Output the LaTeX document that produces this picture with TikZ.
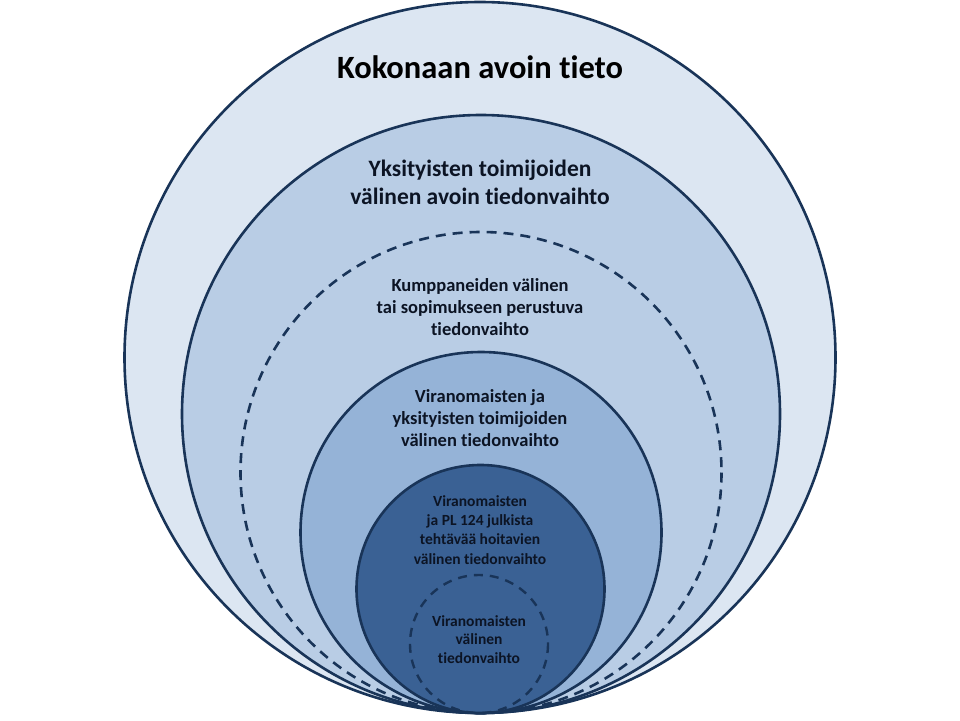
\documentclass[tikz,border=0pt]{standalone}
\usepackage{fontspec}
\setmainfont{Carlito}[Ligatures=NoCommon]
\definecolor{ringA}{RGB}{220,230,242}
\definecolor{ringB}{RGB}{185,205,229}
\definecolor{ringC}{RGB}{149,179,215}
\definecolor{ringD}{RGB}{58,97,148}
\definecolor{edge}{RGB}{25,52,88}
\definecolor{txt}{RGB}{12,20,36}
\begin{document}
\begin{tikzpicture}[x=1pt,y=-1pt,
  ring/.style={draw=edge,line width=2.6pt},
  dashring/.style={draw=edge,line width=2.6pt,dash pattern=on 10pt off 7pt},
  lbl/.style={align=center,font=\bfseries,text=txt,anchor=base,inner sep=0pt}]
\useasboundingbox (0,0) rectangle (960,720);
\path[ring,fill=ringA] (480,357.5) circle[radius=355.5];
\path[ring,fill=ringB] (481,414) circle[radius=299];
\path[dashring] (481,472.5) circle[radius=240.5];
\path[ring,fill=ringC] (481,532.5) circle[radius=180.5];
\path[ring,fill=ringD] (480.5,589) circle[radius=124];
\path[dashring,line width=2.4pt,dash pattern=on 9pt off 7pt] (479,644) circle[radius=69];
\node[lbl,text=black,font=\bfseries\fontsize{32.5}{38}\selectfont] (t1) at (480,78) {Kokonaan avoin tieto};
\node[lbl,font=\bfseries\fontsize{23.5}{27.5}\selectfont] (t2) at (480,204) {Yksityisten toimijoiden\\välinen avoin tiedonvaihto};
\node[lbl,font=\bfseries\fontsize{18.5}{21.7}\selectfont] (t3) at (480,335) {Kumppaneiden välinen\\tai sopimukseen perustuva\\tiedonvaihto};
\node[lbl,font=\bfseries\fontsize{18.5}{21.8}\selectfont] (t4) at (480,446.5) {Viranomaisten ja\\yksityisten toimijoiden\\välinen tiedonvaihto};
\node[lbl,font=\bfseries\fontsize{15.5}{19.2}\selectfont] (t5) at (480,564) {Viranomaisten\\ja PL 124 julkista\\tehtävää hoitavien\\välinen tiedonvaihto};
\node[lbl,font=\bfseries\fontsize{15.5}{18.5}\selectfont] (t6) at (479,663) {Viranomaisten\\välinen\\tiedonvaihto};
\end{tikzpicture}
\end{document}
